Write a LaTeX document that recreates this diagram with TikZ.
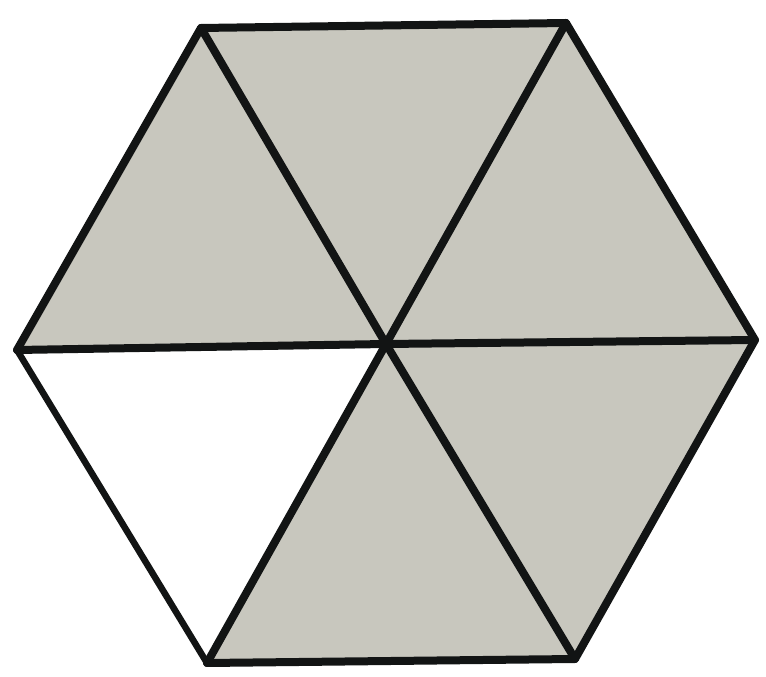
\documentclass[tikz,border=0pt]{standalone}
\definecolor{fillgray}{RGB}{200,199,190}
\definecolor{edge}{RGB}{18,20,20}
\tikzset{tri/.style={fill=fillgray,draw=none},
 whitetri/.style={fill=white,draw=none},
 thickline/.style={draw=edge,line width=8pt,line join=round,line cap=round},
 thinline/.style={draw=edge,line width=6.5pt,line join=round,line cap=round}}
\begin{document}
\begin{tikzpicture}[x=1pt,y=1pt]
\useasboundingbox (0,0) rectangle (766,677);
\coordinate (TL) at (201,649);
\coordinate (TR) at (566,654);
\coordinate (R) at (755,337);
\coordinate (BR) at (575,18);
\coordinate (BL) at (207,14);
\coordinate (L) at (17,327);
\coordinate (C) at (386,333);
\fill[tri] (C) -- (TL) -- (TR) -- cycle;
\fill[tri] (C) -- (TR) -- (R) -- cycle;
\fill[tri] (C) -- (R) -- (BR) -- cycle;
\fill[tri] (C) -- (BR) -- (BL) -- cycle;
\fill[whitetri] (C) -- (BL) -- (L) -- cycle;
\fill[tri] (C) -- (L) -- (TL) -- cycle;
\draw[thinline] (L) -- (BL);
\draw[thickline] (BL) -- (BR) -- (R) -- (TR) -- (TL) -- (L);
\draw[thickline] (C) -- (TL);
\draw[thickline] (C) -- (TR);
\draw[thickline] (C) -- (R);
\draw[thickline] (C) -- (BR);
\draw[thickline] (C) -- (BL);
\draw[thickline] (C) -- (L);
\fill[edge] (C) circle (6pt);
\end{tikzpicture}
\end{document}
